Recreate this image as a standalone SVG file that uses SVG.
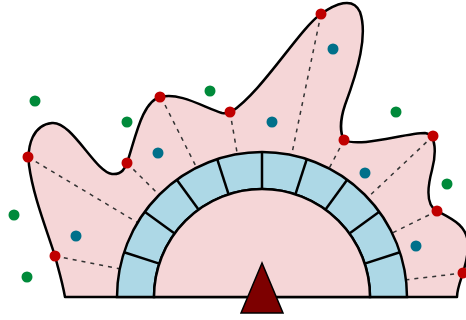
<svg xmlns="http://www.w3.org/2000/svg" width="466" height="320" viewBox="0 0 466 320">
<style>
.blob{fill:#f5d6d7;stroke:#000;stroke-width:2.5;stroke-linejoin:round}
.ring{fill:#add8e6;stroke:#000;stroke-width:2.5}
.inner{fill:#f5d6d7;stroke:#000;stroke-width:2.5}
.div{stroke:#000;stroke-width:2.5}
.dash{stroke:#333;stroke-width:1.5;stroke-dasharray:4 5;fill:none}
.red{fill:#c00000}
.teal{fill:#00708a}
.green{fill:#008a3a}
.tri{fill:#7d0000;stroke:#000;stroke-width:1.5}
</style>
<g id="shape">
<path class="blob" d="M65,297 C62,280 58,268 55,256 C45,225 33,195 29,165 C27,145 33,125 52,123 C72,121 95,172 112,174 C122,175 125,168 127,163 C135,140 142,100 161,97 C180,92 205,108 222,113 C227,114 229,113 231,112 C262,92 300,28 321,14 C335,4 353,-4 360,12 C368,35 358,70 345,105 C340,120 340,133 344,140 C360,148 405,133 425,133 C437,134 436,155 432,170 C428,185 425,205 437,211 C450,218 468,225 468,245 C468,258 465,265 463,273 C459,285 457,290 457,297 Z"/>
</g>
<g id="connectors">
<line class="dash" x1="28" y1="157" x2="137.6" y2="222.6"/>
<line class="dash" x1="55" y1="256" x2="119.8" y2="268.8"/>
<line class="dash" x1="127" y1="163" x2="159.1" y2="194.9"/>
<line class="dash" x1="161" y1="97" x2="196.6" y2="167.6"/>
<line class="dash" x1="230" y1="112" x2="237.3" y2="154.1"/>
<line class="dash" x1="321" y1="14" x2="291.6" y2="155.1"/>
<line class="dash" x1="344" y1="140" x2="329.1" y2="168.5"/>
<line class="dash" x1="433" y1="136" x2="367.6" y2="197.6"/>
<line class="dash" x1="437" y1="211" x2="392.1" y2="233"/>
<line class="dash" x1="463" y1="273" x2="406" y2="279.8"/>
</g>
<g id="ring">
<path class="ring" d="M117,297 A145,145 0 0 1 407,297 L370,297 A108,108 0 0 0 154,297 Z"/>
<path class="inner" d="M154,297 A108,108 0 0 1 370,297 Z"/>
<line class="div" x1="364.7" y1="263.6" x2="399.9" y2="252.2"/>
<line class="div" x1="349.4" y1="233.5" x2="379.3" y2="211.8"/>
<line class="div" x1="325.5" y1="209.6" x2="347.2" y2="179.7"/>
<line class="div" x1="295.4" y1="194.3" x2="306.8" y2="159.1"/>
<line class="div" x1="262" y1="189" x2="262" y2="152"/>
<line class="div" x1="228.6" y1="194.3" x2="217.2" y2="159.1"/>
<line class="div" x1="198.5" y1="209.6" x2="176.8" y2="179.7"/>
<line class="div" x1="174.6" y1="233.5" x2="144.7" y2="211.8"/>
<line class="div" x1="159.3" y1="263.6" x2="124.1" y2="252.2"/>
</g>
<g id="pivot">
<polygon class="tri" points="262,263 241,313 283,313"/>
</g>
<g id="boundary-points">
<circle class="red" cx="28" cy="157" r="5.5"/>
<circle class="red" cx="55" cy="256" r="5.5"/>
<circle class="red" cx="127" cy="163" r="5.5"/>
<circle class="red" cx="160" cy="97" r="5.5"/>
<circle class="red" cx="230" cy="112" r="5.5"/>
<circle class="red" cx="321" cy="14" r="5.5"/>
<circle class="red" cx="344" cy="140" r="5.5"/>
<circle class="red" cx="433" cy="136" r="5.5"/>
<circle class="red" cx="437" cy="211" r="5.5"/>
<circle class="red" cx="463" cy="273" r="5.5"/>
</g>
<g id="inside-points">
<circle class="teal" cx="76" cy="236" r="5.5"/>
<circle class="teal" cx="158" cy="153" r="5.5"/>
<circle class="teal" cx="272" cy="122" r="5.5"/>
<circle class="teal" cx="333" cy="49" r="5.5"/>
<circle class="teal" cx="365" cy="173" r="5.5"/>
<circle class="teal" cx="416" cy="246" r="5.5"/>
</g>
<g id="outside-points">
<circle class="green" cx="35" cy="101" r="5.5"/>
<circle class="green" cx="127" cy="122" r="5.5"/>
<circle class="green" cx="210" cy="91" r="5.5"/>
<circle class="green" cx="14" cy="215" r="5.5"/>
<circle class="green" cx="27" cy="277" r="5.5"/>
<circle class="green" cx="396" cy="112" r="5.5"/>
<circle class="green" cx="447" cy="184" r="5.5"/>
</g>
</svg>
